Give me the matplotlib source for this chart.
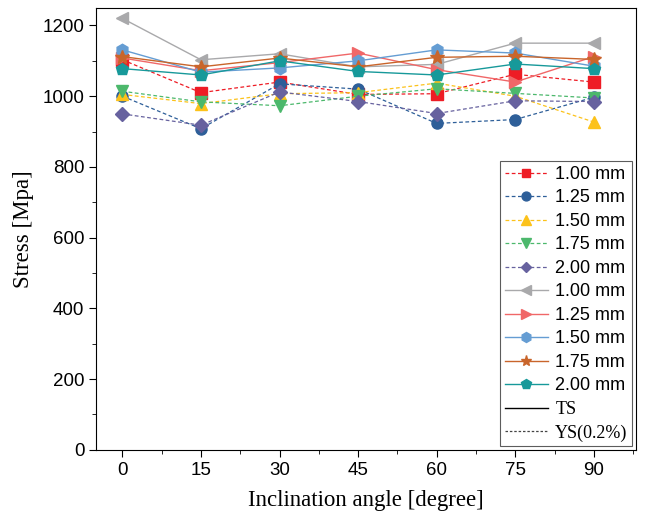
import matplotlib
matplotlib.use("Agg")
import matplotlib.pyplot as plt
from matplotlib.lines import Line2D
from matplotlib.ticker import MultipleLocator

angles = [0, 15, 30, 45, 60, 75, 90]

# yield strength (dashed)
ys_100 = [1103, 1010, 1040, 1005, 1007, 1062, 1040]
ys_125 = [1000, 908, 1035, 1020, 923, 934, 997]
ys_150 = [1005, 979, 1007, 1010, 1037, 1000, 927]
ys_175 = [1014, 984, 973, 1000, 1021, 1008, 995]
ys_200 = [950, 918, 1012, 985, 951, 987, 985]

# tensile strength (solid)
ts_100 = [1220, 1103, 1120, 1083, 1090, 1150, 1150]
ts_125 = [1108, 1072, 1095, 1122, 1075, 1040, 1112]
ts_150 = [1131, 1068, 1080, 1100, 1131, 1122, 1085]
ts_175 = [1112, 1083, 1108, 1083, 1110, 1113, 1104]
ts_200 = [1078, 1060, 1100, 1070, 1060, 1091, 1078]

labels = ["1.00 mm", "1.25 mm", "1.50 mm", "1.75 mm", "2.00 mm"]

fig = plt.figure(figsize=(6.5, 5.2), dpi=100)
ax = fig.add_axes([0.148, 0.135, 0.83, 0.85])

ys_series = [ys_100, ys_125, ys_150, ys_175, ys_200]
ys_colors = ["#ee1c25", "#2e5f99", "#fcc21a", "#4cb86c", "#67629f"]
ys_markers = ["s", "o", "^", "v", "D"]
ys_ms = [8, 8, 9, 9, 7]

ts_series = [ts_100, ts_125, ts_150, ts_175, ts_200]
ts_colors = ["#a9a9ab", "#f06768", "#659dd3", "#c9652b", "#17999a"]
ts_markers = ["<", ">", "h", "*", "p"]
ts_ms = [9, 9, 9, 10, 9]

for vals, c, m, ms, lab in zip(ys_series, ys_colors, ys_markers, ys_ms, labels):
    ax.plot(angles, vals, color=c, marker=m, markersize=ms, lw=0.9,
            linestyle=(0, (3, 2)), label=lab)

for vals, c, m, ms, lab in zip(ts_series, ts_colors, ts_markers, ts_ms, labels):
    ax.plot(angles, vals, color=c, marker=m, markersize=ms, lw=1.0,
            linestyle="-", label=lab)

ax.set_xlim(-5, 98)
ax.set_ylim(0, 1250)
ax.set_xticks(angles)
ax.xaxis.set_minor_locator(MultipleLocator(7.5))
ax.yaxis.set_major_locator(MultipleLocator(200))
ax.yaxis.set_minor_locator(MultipleLocator(100))
ax.tick_params(which="both", direction="out", labelsize=13.5)
ax.tick_params(which="major", length=5)
ax.tick_params(which="minor", length=3)
for lab in ax.get_xticklabels() + ax.get_yticklabels():
    lab.set_family("Liberation Sans")

ax.set_xlabel("Inclination angle [degree]", family="Liberation Serif", fontsize=16.5, labelpad=8)
ax.set_ylabel("Stress [Mpa]", family="Liberation Serif", fontsize=16.5, labelpad=6)

handles, hlabels = ax.get_legend_handles_labels()
handles += [Line2D([], [], color="black", lw=1.0),
            Line2D([], [], color="#444444", lw=0.9, linestyle=(0, (2, 1.5)))]
hlabels += ["TS", "YS(0.2%)"]
leg = ax.legend(handles, hlabels, loc="lower right",
                prop={"family": "Liberation Sans", "size": 13},
                frameon=True, fancybox=False, edgecolor="#333333",
                markerscale=0.8, handlelength=2.4, labelspacing=0.36,
                borderaxespad=0.2, handletextpad=0.4, borderpad=0.25)
leg.get_frame().set_linewidth(0.8)
for t in leg.get_texts()[-2:]:
    t.set_family("Liberation Serif")

fig.savefig("out.png", dpi=100)
